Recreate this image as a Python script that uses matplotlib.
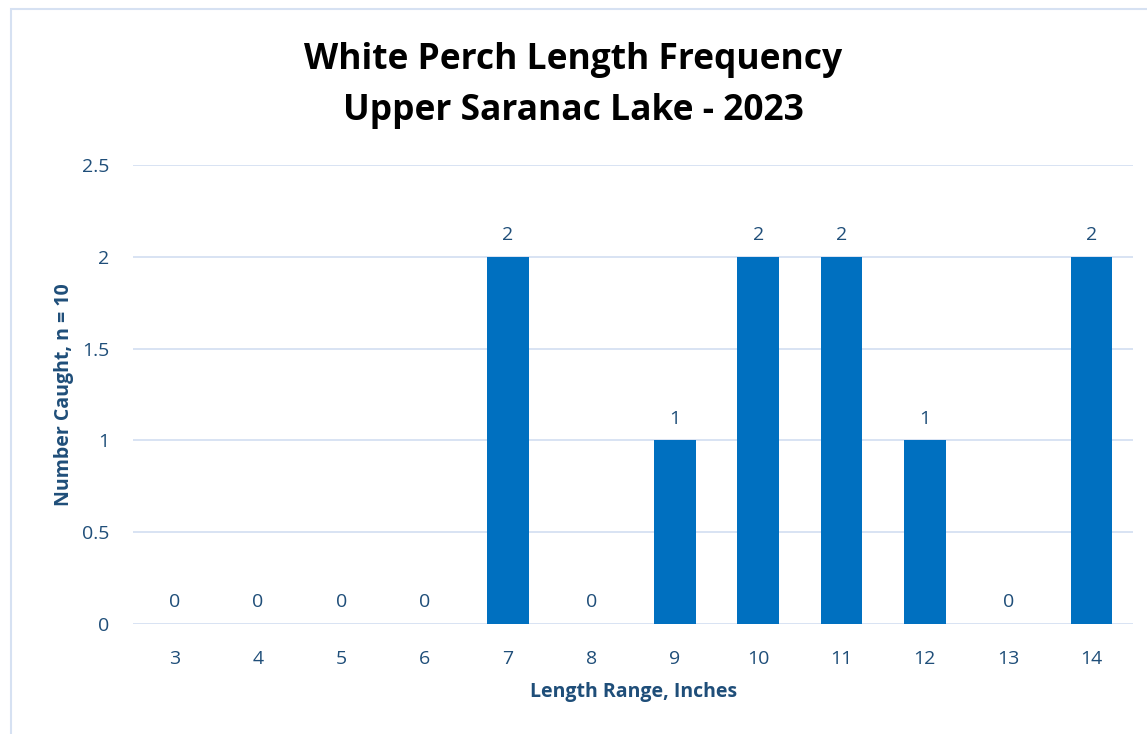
import matplotlib.pyplot as plt
from matplotlib.patches import Rectangle

# Chart data
lengths = ['3', '4', '5', '6', '7', '8', '9', '10', '11', '12', '13', '14']
counts = [0, 0, 0, 0, 2, 0, 1, 2, 2, 1, 0, 2]

TEXT_BLUE = '#1F4E79'
BAR_BLUE = '#0070C0'
GRID = '#D6E1F2'

plt.rcParams['font.family'] = ['Open Sans', 'DejaVu Sans']

fig = plt.figure(figsize=(11.47, 7.34), dpi=100)
ax = fig.add_axes([0.116, 0.150, 0.872, 0.625])

x = range(len(lengths))
bars = ax.bar(x, counts, width=0.5, color=BAR_BLUE, zorder=3)
for b, v in zip(bars, counts):
    ax.text(b.get_x() + b.get_width() / 2, v + 0.07, str(v), ha='center', va='bottom',
            fontsize=14, color=TEXT_BLUE)

ax.set_xlim(-0.5, len(lengths) - 0.5)
ax.set_ylim(0, 2.5)
ax.set_yticks([0, 0.5, 1, 1.5, 2, 2.5])
ax.set_yticklabels(['0', '0.5', '1', '1.5', '2', '2.5'])
ax.set_xticks(list(x))
ax.set_xticklabels(lengths)
ax.tick_params(length=0, labelsize=14, colors=TEXT_BLUE)
ax.tick_params(axis='y', pad=17)
ax.tick_params(axis='x', pad=19)
ax.grid(axis='y', color=GRID, linewidth=1.3, zorder=0)
for s in ax.spines.values():
    s.set_visible(False)

ax.set_xlabel('Length Range, Inches', fontsize=14, fontweight='bold', color=TEXT_BLUE, labelpad=10)
ax.set_ylabel('Number Caught, n = 10', fontsize=14, fontweight='bold', color=TEXT_BLUE, labelpad=6)

fig.text(0.5, 0.883, 'White Perch Length Frequency\nUpper Saranac Lake - 2023', ha='center', va='center',
         fontsize=25.5, fontweight='bold', color='black', linespacing=1.55)

# outer chart border
fig.patches.append(Rectangle((11 / 1147, -0.05), 1.2, 1.05 - 9 / 734, transform=fig.transFigure,
                             fill=False, edgecolor=GRID, linewidth=1.5))

fig.savefig('out.png', dpi=100)
